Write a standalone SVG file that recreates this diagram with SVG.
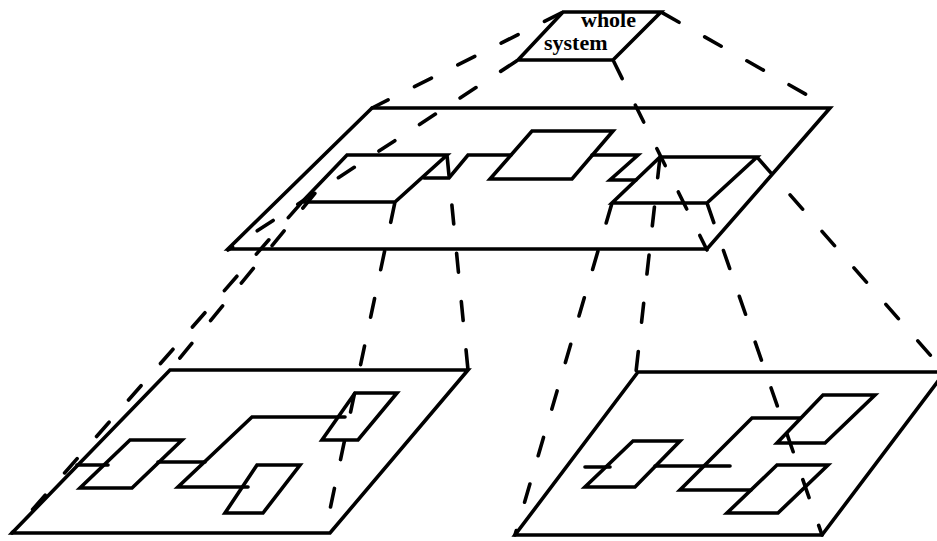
<svg xmlns="http://www.w3.org/2000/svg" width="937" height="541" viewBox="0 0 937 541">
<style>
.s{fill:none;stroke:#000;stroke-width:3.6;stroke-linejoin:miter;stroke-linecap:round}
.d{fill:none;stroke:#000;stroke-width:3.6;stroke-linecap:round;stroke-dasharray:19 29.5;stroke-dashoffset:46.75}
.t{font-family:"Liberation Serif","Times New Roman",serif;font-size:22px;font-weight:bold;fill:#000}
</style>
<rect width="937" height="541" fill="#fff"/>
<g id="whole-system">
<text class="t" x="581" y="27">whole</text>
<text class="t" x="544" y="50">system</text>
<polygon class="s" points="563,12 661,12 613,60 518,60"/>
</g>
<g id="middle-plane">
<polygon class="s" points="372,108 830,108 707,249 228,249"/>
</g>
<g id="left-subsystem"><polygon class="s" points="347,155 447,155 395,202 302,202"/></g>
<g id="center-subsystem"><polygon class="s" points="532,131 613,131 572,179 490,179"/></g>
<g id="right-subsystem"><polygon class="s" points="660,157 757,157 707,203 612,203"/></g>
<g id="left-plane">
<polygon class="s" points="170,370 468,370 330,533 12,533"/>
</g>
<g id="left-box-a"><polygon class="s" points="130,440 182,440 132,488 80,488"/></g>
<g id="left-box-c"><polygon class="s" points="257,465 300,465 263,513 225,513"/></g>
<g id="left-box-d"><polygon class="s" points="355,393 397,393 358,440 322,440"/></g>
<g id="right-plane">
<polygon class="s" points="638,372 945,372 822,535 515,535"/>
</g>
<g id="right-box-p"><polygon class="s" points="633,441 680,441 635,487 585,487"/></g>
<g id="right-box-r"><polygon class="s" points="823,395 875,395 825,443 777,443"/></g>
<g id="right-box-s"><polygon class="s" points="777,465 828,465 778,513 727,513"/></g>
<g id="connectors">
<polyline class="s" points="424,178 449,178 468,155 511,155"/>
<polyline class="s" points="592,155 638,155 610,180 636,180"/>
<line class="s" x1="77" y1="465" x2="108" y2="465"/>
<line class="s" x1="158" y1="462" x2="205" y2="462"/>
<polyline class="s" points="345,417 252,417 178,487 248,487"/>
<line class="s" x1="585" y1="467" x2="610" y2="467"/>
<line class="s" x1="655" y1="466" x2="730" y2="466"/>
<polyline class="s" points="800,418 752,418 680,490 751,490"/>
<line class="d" x1="563" y1="12" x2="372" y2="108"/>
<line class="d" x1="661" y1="12" x2="830" y2="108"/>
<line class="d" x1="518" y1="60" x2="228" y2="250"/>
<line class="d" x1="613" y1="60" x2="707" y2="250"/>
<line class="d" x1="302" y1="202" x2="12" y2="533"/>
<line class="d" x1="316" y1="192" x2="170" y2="370"/>
<line class="d" x1="395" y1="202" x2="325" y2="533"/>
<line class="d" x1="447" y1="155" x2="468" y2="370"/>
<line class="d" x1="612" y1="203" x2="515" y2="535"/>
<line class="d" x1="660" y1="157" x2="636" y2="372"/>
<line class="d" x1="757" y1="157" x2="945" y2="372"/>
<line class="d" x1="707" y1="203" x2="822" y2="535"/>
</g>
</svg>
